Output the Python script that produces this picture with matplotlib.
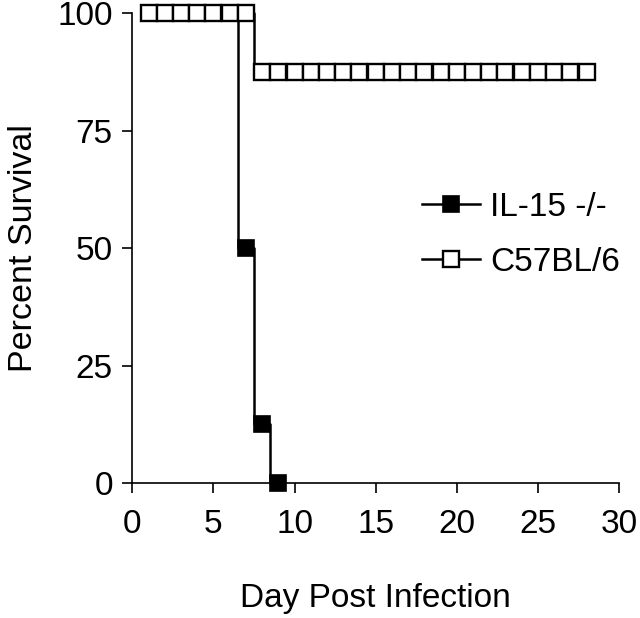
import matplotlib
matplotlib.use("Agg")
import matplotlib.pyplot as plt

plt.rcParams["font.family"] = ["Liberation Sans", "DejaVu Sans"]

# Data
days_il15 = [1, 2, 3, 4, 5, 6, 7, 8, 9]
surv_il15 = [100, 100, 100, 100, 100, 100, 50, 12.5, 0]

days_b6 = list(range(1, 29))
surv_b6 = [100] * 7 + [87.5] * 21

x_ticks = [0, 5, 10, 15, 20, 25, 30]
y_ticks = [0, 25, 50, 75, 100]

fig = plt.figure(figsize=(6.4, 6.18), dpi=100)
ax = fig.add_axes([0.2067, 0.2184, 0.7605, 0.7605])

ax.plot(days_il15, surv_il15, drawstyle="steps-mid", color="black", lw=1.8,
        marker="s", ms=11.5, mfc="black", mec="black", mew=1.2,
        clip_on=False, zorder=3, label="IL-15 -/-")
ax.plot(days_b6, surv_b6, drawstyle="steps-mid", color="black", lw=1.8,
        marker="s", ms=11.5, mfc="white", mec="black", mew=1.7,
        clip_on=False, zorder=4, label="C57BL/6")

ax.set_xlim(0, 30)
ax.set_ylim(0, 100)
ax.set_xticks(x_ticks)
ax.set_yticks(y_ticks)

for s in ["top", "right"]:
    ax.spines[s].set_visible(False)
for s in ["left", "bottom"]:
    ax.spines[s].set_linewidth(1.2)

ax.tick_params(axis="x", direction="out", length=7, width=1.2, pad=12, labelsize=24)
ax.tick_params(axis="y", direction="out", length=7, width=1.2, pad=7, labelsize=24)

ax.set_xlabel("Day Post Infection", fontsize=24, labelpad=31)
ax.set_ylabel("Percent Survival", fontsize=24.5, labelpad=13)

ax.legend(loc="upper left", bbox_to_anchor=(0.595, 0.619), frameon=False,
          fontsize=24, numpoints=1, handlelength=1.75, handletextpad=0.3,
          labelspacing=0.72, borderpad=0, borderaxespad=0)

fig.savefig("out.png", dpi=100)
